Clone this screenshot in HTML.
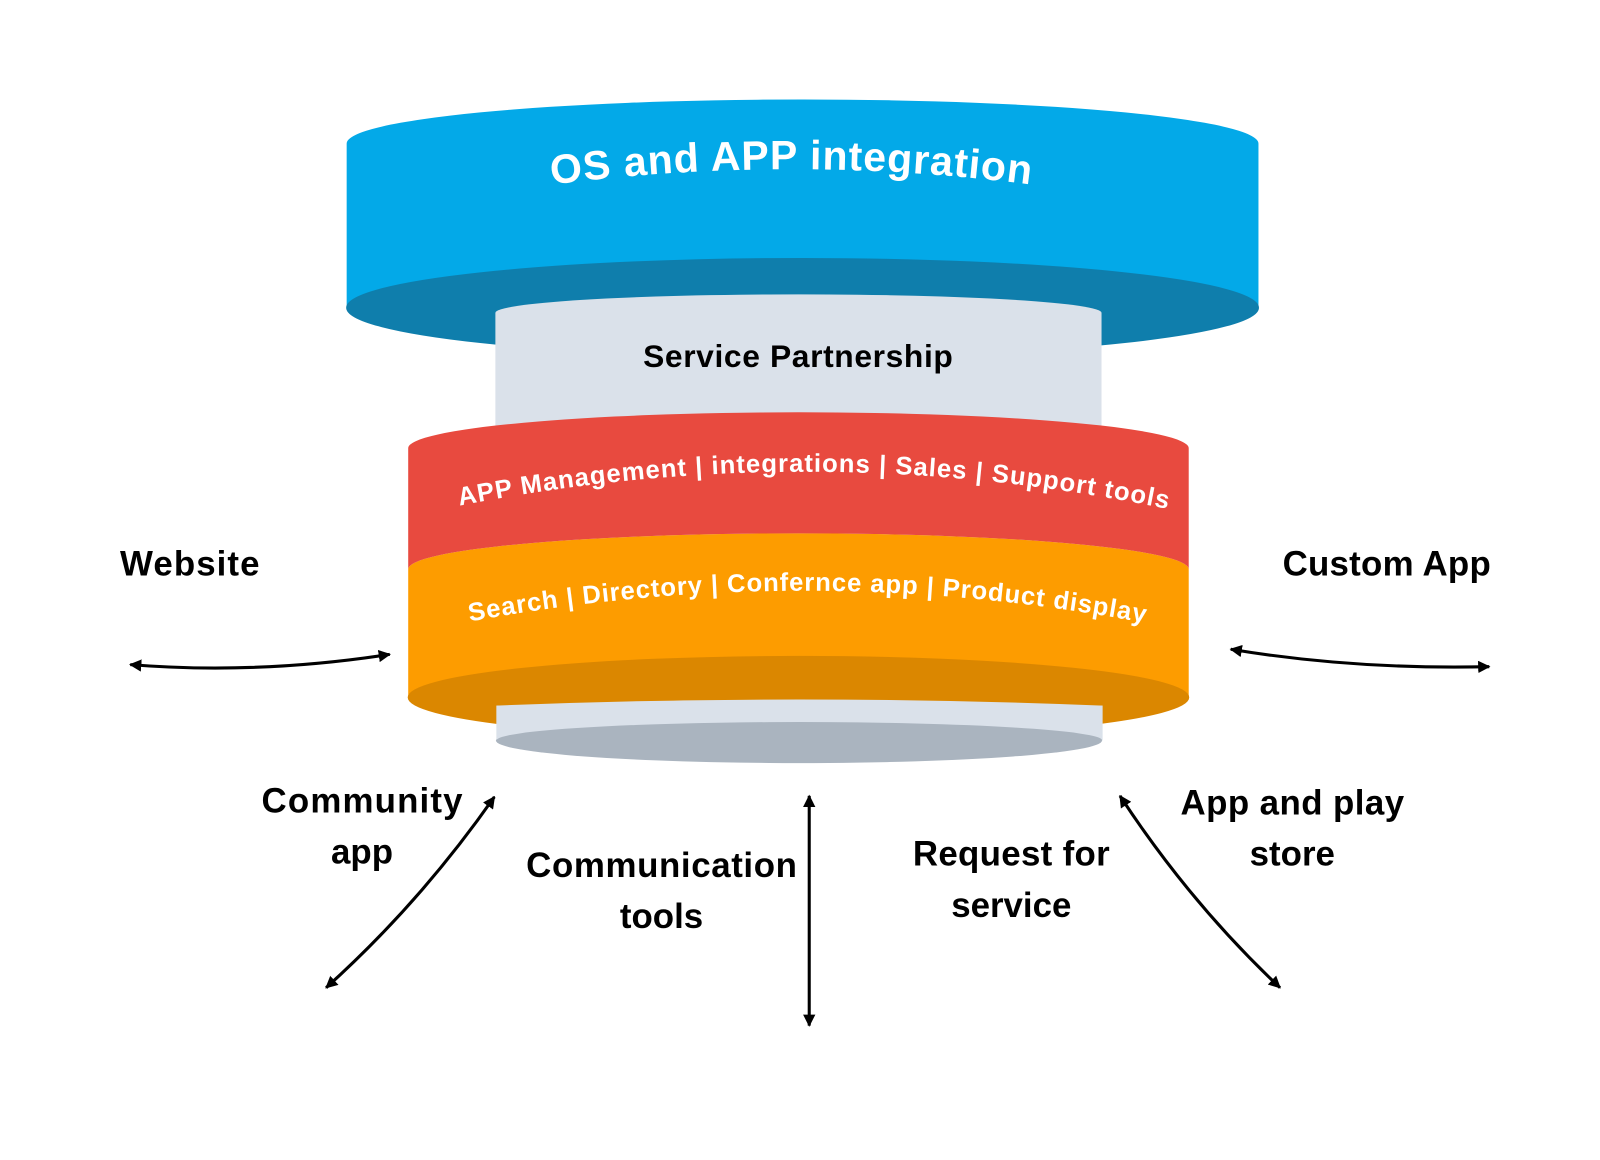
<!DOCTYPE html>
<html><head><meta charset="utf-8"><style>html,body{margin:0;padding:0;background:#fff}svg{display:block}</style></head>
<body>
<svg width="1600" height="1160" viewBox="0 0 1560 1131" xmlns="http://www.w3.org/2000/svg" font-family="'Liberation Sans', sans-serif" font-weight="bold">
<defs>
<marker id="ah" viewBox="0 0 10 10" refX="9" refY="5" markerWidth="4" markerHeight="4" orient="auto-start-reverse"><path d="M0,0 L10,5 L0,10 z" fill="#000"/></marker>
<path id="p1" d="M448,493 Q795,425 1142,497" fill="none"/>
<path id="p2" d="M458,606 Q790,545 1120,608" fill="none"/>
<path id="p0" d="M538,180 Q772,150 1006,180" fill="none"/>
</defs>
<!-- blue -->
<path d="M338,140 A444.5,43 0 0 1 1227,140 L1227,300 A444.5,48 0 0 0 338,300 Z" fill="#03a9e8"/>
<path d="M338,300 A444.5,48 0 0 1 1227,300 A444.5,48 0 0 1 338,300 Z" fill="#0f7eac" stroke="#0f7eac" stroke-width="1"/>
<!-- grey top cylinder -->
<path d="M483,305 A295.5,18 0 0 1 1074,305 L1074,430 L483,430 Z" fill="#dae1ea"/>
<!-- orange -->
<path d="M398,555 A380.5,35 0 0 1 1159,555 L1159,680 A380.5,40 0 0 0 398,680 Z" fill="#fd9c00"/>
<path d="M398,680 A380.5,40 0 0 1 1159,680 A380.5,40 0 0 1 398,680 Z" fill="#db8700" stroke="#db8700" stroke-width="1"/>
<!-- red -->
<path d="M398,437 A380.5,35 0 0 1 1159,437 L1159,555 A380.5,35 0 0 0 398,555 Z" fill="#e84a3f"/>
<!-- bottom grey -->
<path d="M484,688 Q779,676 1075,688 L1075,722 L484,722 Z" fill="#dae1ea"/>
<ellipse cx="779" cy="722" rx="295.5" ry="22" fill="#aab4bf"/>
<path d="M484,688 L484,722 A295.5,18 0 0 1 1075,722 L1075,688 Z" fill="#dae1ea"/>
<!-- texts -->
<text font-size="40" fill="#fff"><textPath href="#p0" startOffset="0" textLength="468">OS and APP  integration</textPath></text>
<text x="778" y="358" font-size="31" text-anchor="middle" fill="#000" textLength="302">Service Partnership</text>
<text font-size="25" fill="#fff"><textPath href="#p1" textLength="695">APP Management | integrations | Sales | Support tools</textPath></text>
<text font-size="25" fill="#fff"><textPath href="#p2" textLength="662">Search | Directory | Confernce app | Product display</textPath></text>
<g font-size="34" fill="#000" text-anchor="middle">
<text x="185" y="561" textLength="136">Website</text>
<text x="1352" y="561" textLength="203">Custom App</text>
<text x="353" y="792" textLength="196">Community</text>
<text x="353" y="842">app</text>
<text x="645" y="855" textLength="264">Communication</text>
<text x="645" y="905">tools</text>
<text x="986" y="844" textLength="192">Request for</text>
<text x="986" y="894">service</text>
<text x="1260" y="794" textLength="218">App and play</text>
<text x="1260" y="844">store</text>
</g>
<!-- arrows -->
<g fill="none" stroke="#000" stroke-width="3" marker-start="url(#ah)" marker-end="url(#ah)">
<path d="M127,648 Q250,658 380,638"/>
<path d="M1200,633 Q1320,653 1452,650"/>
<path d="M482,777 Q410,880 318,963"/>
<path d="M789,776 L789,1000"/>
<path d="M1092,776 Q1160,880 1248,963"/>
</g>
</svg>
</body></html>
